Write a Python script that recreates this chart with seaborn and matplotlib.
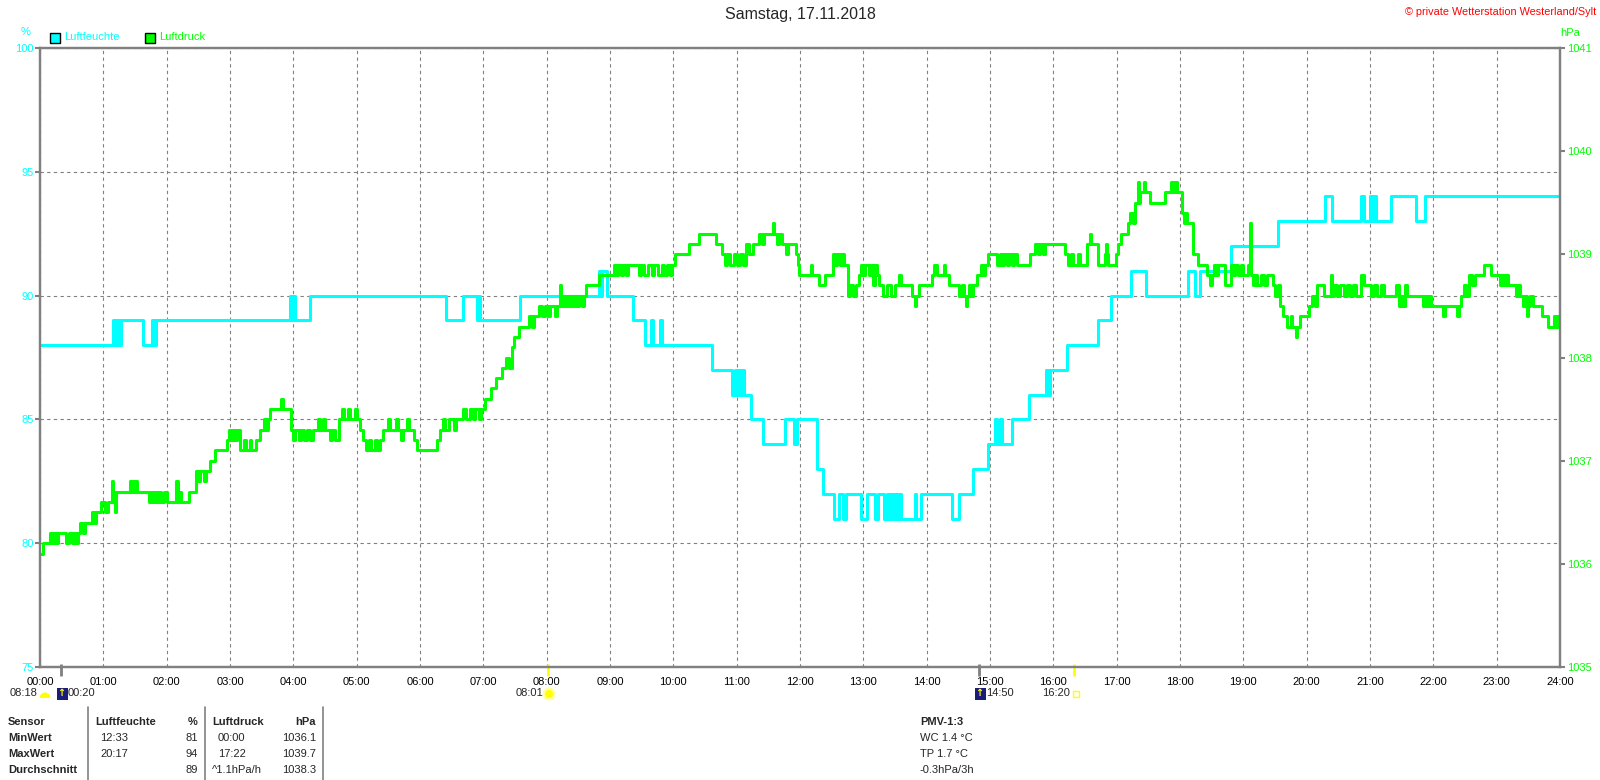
import pandas as pd
import matplotlib.pyplot as plt
import matplotlib.patches as mpatches
import matplotlib.transforms as mtrans
import seaborn as sns

# ── Messwerte (Minute des Tages, Wert) ─────────────────────────────────────
feuchte = [
    (0, 88), (69, 89), (70, 88), (71, 89), (73, 88), (74, 89), (75, 88), (77, 89),
    (98, 88), (106, 89), (107, 88), (108, 89), (109, 88), (110, 89),
    (237, 90), (239, 89), (240, 90), (242, 89), (256, 90),
    (385, 89), (401, 90), (414, 89), (415, 90), (417, 89), (455, 90),
    (530, 91), (531, 90), (532, 91), (537, 90), (562, 89), (573, 88),
    (579, 89), (581, 88), (587, 89), (589, 88), (637, 87),
    (656, 86), (658, 87), (660, 86), (662, 87), (664, 86), (666, 87), (667, 86),
    (674, 85), (685, 84), (706, 85), (714, 84), (717, 85), (736, 83), (742, 82),
    (752, 81), (757, 82), (761, 81), (764, 82), (778, 81), (783, 82), (791, 81), (794, 82),
    (800, 81), (802, 82), (804, 81), (806, 82), (808, 81), (810, 82), (812, 81),
    (814, 82), (816, 81), (829, 82), (830, 81), (835, 82), (864, 81), (871, 82),
    (884, 83), (898, 84), (905, 85), (907, 84), (909, 85), (911, 84), (921, 85),
    (937, 86), (953, 87), (955, 86), (957, 87), (973, 88), (1002, 89), (1015, 90),
    (1034, 91), (1048, 90), (1088, 91), (1094, 90), (1099, 91), (1128, 92),
    (1173, 93), (1217, 94), (1224, 93), (1251, 94), (1254, 93), (1260, 94),
    (1262, 93), (1264, 94), (1266, 93), (1280, 94), (1304, 93), (1312, 94), (1440, 94),
]

druck = [
    (0, 1036.1), (3, 1036.2), (9, 1036.3), (11, 1036.2), (13, 1036.3), (15, 1036.2), (17, 1036.3),
    (25, 1036.2), (27, 1036.3), (30, 1036.2), (32, 1036.3), (34, 1036.2), (36, 1036.3),
    (38, 1036.4), (41, 1036.3), (43, 1036.4), (49, 1036.5), (51, 1036.4), (53, 1036.5),
    (58, 1036.6), (62, 1036.5), (64, 1036.6), (68, 1036.8), (69, 1036.6), (70, 1036.7), (71, 1036.5), (72, 1036.7),
    (85, 1036.8), (86, 1036.7), (87, 1036.8), (89, 1036.7), (90, 1036.8), (92, 1036.7),
    (103, 1036.6), (105, 1036.7), (107, 1036.6), (109, 1036.7), (111, 1036.6), (113, 1036.7), (115, 1036.6), (117, 1036.7),
    (120, 1036.6), (129, 1036.8), (131, 1036.6), (133, 1036.7), (134, 1036.6), (141, 1036.7),
    (148, 1036.9), (150, 1036.8), (152, 1036.9), (155, 1036.8), (157, 1036.9), (161, 1037.0), (166, 1037.1),
    (177, 1037.2), (179, 1037.3), (181, 1037.2), (183, 1037.3), (185, 1037.2), (187, 1037.3),
    (189, 1037.1), (193, 1037.2), (195, 1037.1), (199, 1037.2), (200, 1037.1), (205, 1037.2), (208, 1037.3),
    (212, 1037.4), (214, 1037.3), (216, 1037.4), (218, 1037.5), (228, 1037.6), (230, 1037.5),
    (238, 1037.3), (240, 1037.2), (242, 1037.3), (245, 1037.2), (247, 1037.3), (250, 1037.2), (253, 1037.3), (256, 1037.2),
    (259, 1037.3), (263, 1037.4), (265, 1037.3), (268, 1037.4), (270, 1037.3), (275, 1037.2), (277, 1037.3), (279, 1037.2),
    (283, 1037.4), (286, 1037.5), (288, 1037.4), (292, 1037.5), (294, 1037.4), (298, 1037.5), (300, 1037.4),
    (303, 1037.3), (306, 1037.2), (309, 1037.1), (312, 1037.2), (314, 1037.1), (317, 1037.2), (319, 1037.1), (322, 1037.2),
    (325, 1037.3), (330, 1037.4), (332, 1037.3), (337, 1037.4), (339, 1037.3), (342, 1037.2), (344, 1037.3), (348, 1037.4), (350, 1037.3),
    (354, 1037.2), (357, 1037.1), (376, 1037.2), (379, 1037.3), (382, 1037.4), (384, 1037.3), (387, 1037.4), (392, 1037.3), (394, 1037.4),
    (401, 1037.5), (404, 1037.4), (407, 1037.5), (410, 1037.4), (412, 1037.5), (416, 1037.4), (418, 1037.5),
    (422, 1037.6), (427, 1037.7), (432, 1037.8), (438, 1037.9), (441, 1038.0), (444, 1037.9), (447, 1038.1), (449, 1038.2),
    (454, 1038.3), (463, 1038.4), (466, 1038.3), (468, 1038.4), (473, 1038.5), (476, 1038.4), (478, 1038.5),
    (481, 1038.4), (483, 1038.5), (488, 1038.4), (490, 1038.5),
    (493, 1038.7), (494, 1038.5), (495, 1038.6), (497, 1038.5), (499, 1038.6), (501, 1038.5), (503, 1038.6),
    (505, 1038.5), (507, 1038.6), (509, 1038.5), (511, 1038.6), (513, 1038.5), (515, 1038.6),
    (517, 1038.7), (530, 1038.8), (544, 1038.9), (546, 1038.8), (548, 1038.9), (550, 1038.8), (552, 1038.9), (555, 1038.8), (557, 1038.9),
    (567, 1038.8), (569, 1038.9), (572, 1038.8), (576, 1038.9), (580, 1038.8), (582, 1038.9), (585, 1038.8),
    (589, 1038.9), (591, 1038.8), (594, 1038.9), (597, 1038.8), (599, 1038.9),
    (602, 1039.0), (615, 1039.1), (624, 1039.2), (640, 1039.1), (646, 1039.0), (649, 1038.9), (651, 1039.0),
    (654, 1038.9), (657, 1039.0), (660, 1038.9), (663, 1039.0), (666, 1038.9),
    (669, 1039.1), (672, 1039.0), (675, 1039.1), (681, 1039.2), (684, 1039.1), (686, 1039.2), (694, 1039.3), (695, 1039.2),
    (698, 1039.1), (700, 1039.2), (703, 1039.1), (707, 1039.0), (709, 1039.1),
    (716, 1039.0), (718, 1038.9), (719, 1038.8), (730, 1038.9), (731, 1038.8), (738, 1038.7), (744, 1038.8),
    (751, 1039.0), (753, 1038.9), (755, 1039.0), (758, 1038.9), (760, 1039.0), (762, 1038.9),
    (765, 1038.6), (767, 1038.7), (770, 1038.6), (773, 1038.7), (776, 1038.8), (778, 1038.9), (780, 1038.8),
    (782, 1038.9), (785, 1038.8), (787, 1038.9), (789, 1038.7), (791, 1038.9), (793, 1038.8),
    (795, 1038.7), (799, 1038.6), (802, 1038.7), (806, 1038.6), (810, 1038.7), (814, 1038.8), (816, 1038.7),
    (826, 1038.6), (829, 1038.5), (830, 1038.6), (833, 1038.7), (845, 1038.8), (847, 1038.9), (850, 1038.8),
    (856, 1038.9), (857, 1038.8), (861, 1038.7),
    (871, 1038.6), (873, 1038.7), (875, 1038.6), (877, 1038.5), (878, 1038.6), (880, 1038.7), (882, 1038.6),
    (884, 1038.7), (888, 1038.8), (891, 1038.9), (893, 1038.8), (895, 1038.9),
    (898, 1039.0), (907, 1038.9), (909, 1039.0), (911, 1038.9), (913, 1039.0), (916, 1038.9), (918, 1039.0),
    (921, 1038.9), (923, 1039.0), (926, 1038.9),
    (938, 1039.0), (943, 1039.1), (945, 1039.0), (947, 1039.1), (950, 1039.0), (952, 1039.1),
    (971, 1039.0), (974, 1038.9), (977, 1039.0), (979, 1038.9), (983, 1039.0), (985, 1038.9),
    (992, 1039.1), (995, 1039.2), (996, 1039.1), (1002, 1038.9), (1009, 1039.0), (1010, 1039.1), (1011, 1039.0),
    (1012, 1038.9), (1019, 1039.0), (1021, 1039.1),
    (1024, 1039.2), (1031, 1039.3), (1033, 1039.4), (1035, 1039.3), (1037, 1039.5), (1040, 1039.7),
    (1041, 1039.5), (1042, 1039.6), (1046, 1039.7), (1047, 1039.6),
    (1052, 1039.5), (1066, 1039.6), (1071, 1039.7), (1073, 1039.6), (1075, 1039.7), (1077, 1039.6),
    (1082, 1039.4), (1084, 1039.3), (1085, 1039.4), (1087, 1039.3),
    (1092, 1039.0), (1097, 1038.9), (1106, 1038.8), (1108, 1038.7), (1110, 1038.8), (1112, 1038.9),
    (1114, 1038.8), (1116, 1038.9), (1123, 1038.7),
    (1128, 1038.9), (1130, 1038.8), (1132, 1038.9), (1135, 1038.8), (1138, 1038.9), (1140, 1038.8),
    (1144, 1038.9), (1146, 1039.3), (1147, 1038.8),
    (1149, 1038.7), (1151, 1038.8), (1153, 1038.7), (1157, 1038.8), (1160, 1038.7), (1162, 1038.8),
    (1168, 1038.7), (1170, 1038.6), (1173, 1038.7),
    (1175, 1038.5), (1178, 1038.4), (1181, 1038.3), (1185, 1038.4), (1186, 1038.3), (1190, 1038.2),
    (1191, 1038.3), (1194, 1038.4),
    (1202, 1038.5), (1205, 1038.6), (1208, 1038.5), (1210, 1038.7), (1216, 1038.6), (1223, 1038.8),
    (1224, 1038.6), (1226, 1038.7), (1229, 1038.6), (1232, 1038.7),
    (1235, 1038.6), (1238, 1038.7), (1241, 1038.6), (1244, 1038.7), (1247, 1038.6), (1251, 1038.8),
    (1254, 1038.7), (1261, 1038.6), (1264, 1038.7), (1267, 1038.6), (1270, 1038.7), (1273, 1038.6),
    (1285, 1038.7), (1287, 1038.5), (1289, 1038.6), (1291, 1038.5), (1293, 1038.7), (1295, 1038.6),
    (1310, 1038.5), (1312, 1038.6), (1314, 1038.5), (1316, 1038.6), (1318, 1038.5),
    (1329, 1038.4), (1331, 1038.5), (1342, 1038.4), (1344, 1038.5), (1346, 1038.6), (1349, 1038.7),
    (1351, 1038.6), (1354, 1038.8), (1357, 1038.7), (1359, 1038.8),
    (1368, 1038.9), (1375, 1038.8), (1383, 1038.7), (1385, 1038.8), (1387, 1038.7), (1389, 1038.8),
    (1391, 1038.7), (1398, 1038.6), (1400, 1038.7), (1402, 1038.6),
    (1405, 1038.5), (1407, 1038.6), (1409, 1038.4), (1410, 1038.5), (1412, 1038.6), (1414, 1038.5),
    (1423, 1038.4), (1429, 1038.3), (1434, 1038.4), (1436, 1038.3), (1438, 1038.4), (1440, 1038.4),
]

stunden = [f"{h:02d}:00" for h in range(25)]
feuchte_ticks = [75, 80, 85, 90, 95, 100]
druck_ticks = [1035, 1036, 1037, 1038, 1039, 1040, 1041]

# Sonne / Mond: (Minute, Farbe des Strichs)
ereignis_striche = [(20, "#808080"), (481, "#FFFF00"), (890, "#808080"), (980, "#FFFF00")]

tabelle = [
    ("Sensor", "Luftfeuchte", "%", "Luftdruck", "hPa"),
    ("MinWert", "12:33", "81", "00:00", "1036.1"),
    ("MaxWert", "20:17", "94", "17:22", "1039.7"),
    ("Durchschnitt", "", "89", "^1.1hPa/h", "1038.3"),
]
pmv = ["PMV-1:3", "WC 1.4 °C", "TP 1.7 °C", "-0.3hPa/3h"]

CYAN, GRUEN, GRAU = "#00FFFF", "#00FF00", "#808080"

sns.set_theme(style="white")
plt.rcParams["font.family"] = ["Liberation Sans", "DejaVu Sans"]
plt.rcParams["font.size"] = 8

W, H = 1600, 780
L, R, T, B = 40, 1560, 47.7, 667.3

fig = plt.figure(figsize=(W / 100, H / 100), dpi=100)
fig.patch.set_facecolor("white")
ax = fig.add_axes([L / W, 1 - B / H, (R - L) / W, (B - T) / H])
ax2 = ax.twinx()


def fx(x):
    return x / W


def fy(y):
    return 1 - y / H


def inch(x, y):
    return (x / 100, (H - y) / 100)


df_f = pd.DataFrame(feuchte, columns=["minute", "prozent"])
df_d = pd.DataFrame(druck, columns=["minute", "hpa"])

sns.lineplot(data=df_f, x="minute", y="prozent", ax=ax, color=CYAN,
             linewidth=2.2, drawstyle="steps-post", estimator=None, sort=False)
sns.lineplot(data=df_d, x="minute", y="hpa", ax=ax2, color=GRUEN,
             linewidth=2.2, drawstyle="steps-post", estimator=None, sort=False)

ax.set_xlim(0, 1440)
ax.set_ylim(75, 100)
ax2.set_ylim(1035, 1041)
ax.set_xlabel("")
ax.set_ylabel("")
ax2.set_ylabel("")

ax.set_xticks(range(0, 1441, 60))
ax.set_xticklabels(stunden)
ax.set_yticks(feuchte_ticks)
ax2.set_yticks(druck_ticks)

ax.tick_params(axis="x", length=0, pad=7, labelsize=8, labelcolor="black")
ax.tick_params(axis="y", length=3.6, width=1.5, color=GRAU, pad=0.8,
               labelsize=8, labelcolor=CYAN, left=True)
ax2.tick_params(axis="y", length=3.6, width=1.5, color=GRAU, pad=1.4,
                labelsize=8, labelcolor=GRUEN, right=True)

ax.grid(True, color=GRAU, linestyle=(0, (3, 3)), linewidth=0.8)
ax2.grid(False)
for a in (ax, ax2):
    for sp in a.spines.values():
        sp.set_color(GRAU)
        sp.set_linewidth(1.6)

# ── Kopfzeile ───────────────────────────────────────────────────────────────
fig.text(0.5, fy(15), "Samstag, 17.11.2018", ha="center", va="center", fontsize=11.5)
fig.text(fx(1596), fy(12), "© private Wetterstation Westerland/Sylt",
         ha="right", va="center", fontsize=7.8, color="#FF0000")
fig.text(fx(26), fy(32), "%", ha="center", va="center", fontsize=8, color=CYAN)
fig.text(fx(1570), fy(33), "hPa", ha="center", va="center", fontsize=8, color=GRUEN)

for x0, farbe, name in [(50, CYAN, "Luftfeuchte"), (145, GRUEN, "Luftdruck")]:
    fig.patches.append(mpatches.Rectangle(inch(x0, 42.5), 0.095, 0.095, facecolor=farbe,
                                          edgecolor="black", linewidth=1,
                                          transform=fig.dpi_scale_trans))
    fig.text(fx(x0 + 14.5), fy(37.5), name, ha="left", va="center", fontsize=8, color=farbe)

# ── Sonne / Mond unter der Zeitachse ────────────────────────────────────────
trans = mtrans.blended_transform_factory(ax.transData, fig.transFigure)
for minute, farbe in ereignis_striche:
    ax.plot([minute, minute], [fy(664), fy(676)], transform=trans, color=farbe,
            linewidth=2, clip_on=False, solid_capstyle="butt")

fig.text(fx(10), fy(693), "08:18", ha="left", va="center", fontsize=8)
fig.patches.append(mpatches.Wedge(inch(45, 698), 0.055, 0, 180, facecolor="#FFFF00",
                                  edgecolor="none", transform=fig.dpi_scale_trans))
for xm in (57, 975):
    fig.patches.append(mpatches.Rectangle(inch(xm, 700), 0.11, 0.12, facecolor="#1C1C7A",
                                          edgecolor="none", transform=fig.dpi_scale_trans))
    fig.text(fx(xm + 4), fy(693), "↑", ha="center", va="center", fontsize=7,
             color="#FFFF00", fontweight="bold", family=["DejaVu Sans"])
fig.text(fx(68), fy(693), "00:20", ha="left", va="center", fontsize=8)
fig.text(fx(516), fy(693), "08:01", ha="left", va="center", fontsize=8)
fig.patches.append(mpatches.Circle(inch(549, 694), 0.065, facecolor="#FFFFA0",
                                   edgecolor="none", transform=fig.dpi_scale_trans))
fig.patches.append(mpatches.Circle(inch(549, 694), 0.04, facecolor="#FFFF00",
                                   edgecolor="none", transform=fig.dpi_scale_trans))
fig.text(fx(986), fy(693), "14:50", ha="left", va="center", fontsize=8)
fig.text(fx(1042), fy(693), "16:20", ha="left", va="center", fontsize=8)
fig.patches.append(mpatches.Rectangle(inch(1073, 697), 0.06, 0.06, facecolor="none",
                                      edgecolor="#FFFF00", linewidth=1,
                                      transform=fig.dpi_scale_trans))

# ── Tabelle unten ───────────────────────────────────────────────────────────
zeilen_y = [722, 738, 754, 770]
for i, (c0, c1, c2, c3, c4) in enumerate(tabelle):
    y = fy(zeilen_y[i])
    gew = "bold" if i == 0 else "normal"
    fig.text(fx(8), y, c0, ha="left", va="center", fontsize=8, fontweight="bold")
    fig.text(fx(95 if i == 0 else 100), y, c1, ha="left", va="center", fontsize=8, fontweight=gew)
    fig.text(fx(198), y, c2, ha="right", va="center", fontsize=8, fontweight=gew)
    fig.text(fx(212 if i in (0, 3) else 218), y, c3, ha="left", va="center", fontsize=8, fontweight=gew)
    fig.text(fx(316), y, c4, ha="right", va="center", fontsize=8, fontweight=gew)
    fig.text(fx(920), y, pmv[i], ha="left", va="center", fontsize=8, fontweight=gew)

for xs in (88, 205, 323):
    fig.add_artist(plt.Line2D([fx(xs), fx(xs)], [fy(707), fy(780)], color=GRAU, linewidth=1.2))

fig.savefig("out.png", dpi=100, facecolor="white")
